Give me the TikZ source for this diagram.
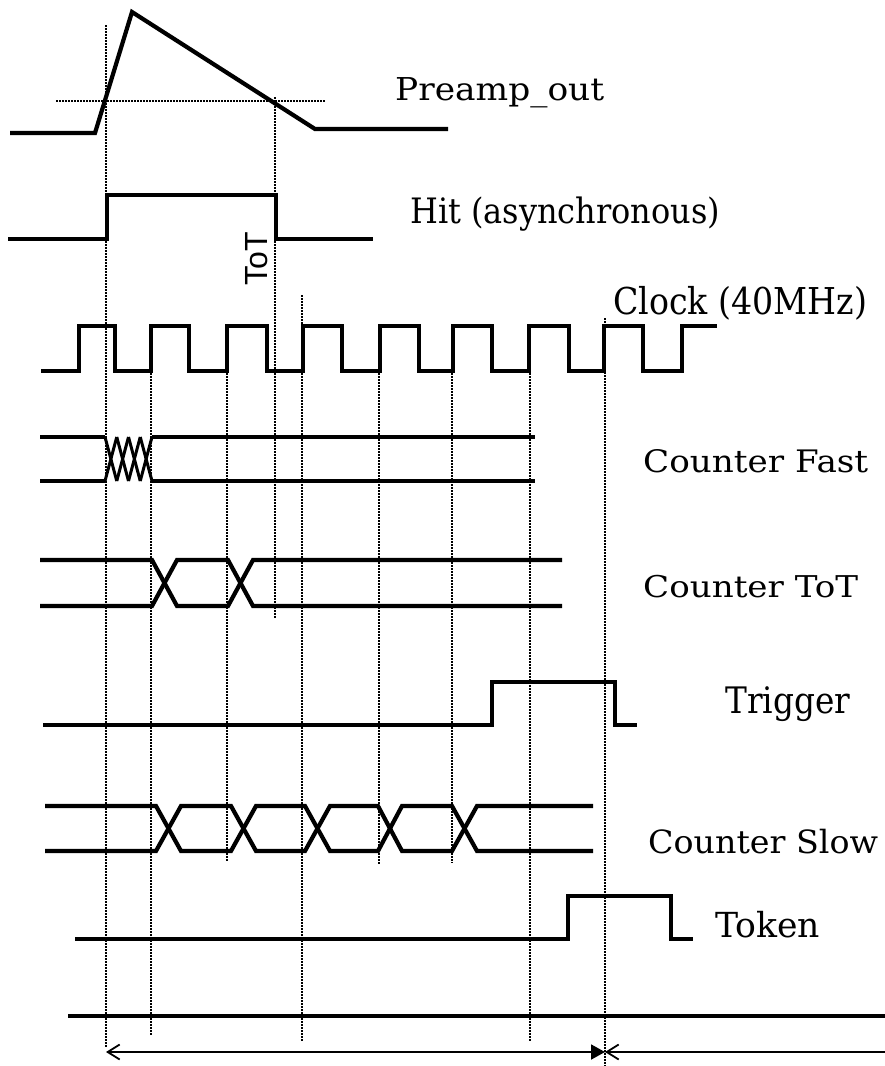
\documentclass[tikz,border=0pt]{standalone}
\usepackage{fontspec}
\setmainfont{DejaVu Serif}
\setsansfont{Liberation Sans}
\usepackage{graphicx}
\usetikzlibrary{arrows.meta}
\newcommand\mylabel[3]{\resizebox{#1pt}{\height}{\fontsize{#2}{#2}\selectfont #3}}
\tikzset{
  wave/.style={line width=4.2pt, line join=miter},
  guide/.style={line width=1.6pt, dash pattern=on 1.5pt off 1.5pt},
  sig/.style={anchor=base west, inner sep=0pt},
  span/.style={line width=1.8pt}
}
\begin{document}
\begin{tikzpicture}[x=1pt,y=-1pt]
\useasboundingbox (0,0) rectangle (885,1066);
% guide lines
\draw[guide] (56,101) -- (326,101);
\foreach \gx/\ga/\gb in {106/25/1047, 151/373/1035, 227/373/862, 275/97/618, 302/295/1042, 379/373/864, 452/373/863, 530/373/1042, 605/318/1066}
  \draw[guide] (\gx,\ga) -- (\gx,\gb);
% Preamp_out
\draw[wave] (10,133) -- (95,133) -- (132,12) -- (315,129) -- (448,129);
% Hit
\draw[wave] (8,239) -- (107,239) -- (107,195) -- (276,195) -- (276,239) -- (373,239);
% Clock
\draw[wave] (41,371) -- (79,371) -- (79,326) -- (115,326) -- (115,371) -- (151,371) -- (151,326) -- (189,326) -- (189,371) -- (227,371) -- (227,326) -- (267,326) -- (267,371) -- (303,371) -- (303,326) -- (342,326) -- (342,371) -- (380,371) -- (380,326) -- (419,326) -- (419,371) -- (453,371) -- (453,326) -- (492,326) -- (492,371) -- (529,371) -- (529,326) -- (569,326) -- (569,371) -- (604,371) -- (604,326) -- (643,326) -- (643,371) -- (682,371) -- (682,326) -- (717,326);
% Counter Fast
\draw[wave] (40,437) -- (105,437);
\draw[wave] (40,481) -- (105,481);
\foreach \k in {0,1,2,3}{
  \pgfmathsetmacro\xa{105+\k*11.75}
  \pgfmathsetmacro\xb{105+(\k+1)*11.75}
  \draw[wave, line width=3pt] (\xa,437) -- (\xb,481);
  \draw[wave, line width=3pt] (\xa,481) -- (\xb,437);
}
\draw[wave] (152,437) -- (535,437);
\draw[wave] (152,481) -- (535,481);
% Counter ToT
\draw[wave] (40,560) -- (152,560) -- (177,606) -- (228,606) -- (253,560) -- (562,560);
\draw[wave] (40,606) -- (152,606) -- (177,560) -- (228,560) -- (253,606) -- (562,606);
% Trigger
\draw[wave] (43,725) -- (492,725) -- (492,682) -- (615,682) -- (615,725) -- (637,725);
% Counter Slow
\draw[wave] (45,806) -- (156,806) -- (181,851) -- (231,851) -- (256,806) -- (305,806) -- (330,851) -- (378,851) -- (402,806) -- (452,806) -- (477,851) -- (593,851);
\draw[wave] (45,851) -- (156,851) -- (181,806) -- (231,806) -- (256,851) -- (305,851) -- (330,806) -- (378,806) -- (402,851) -- (452,851) -- (477,806) -- (593,806);
% Token
\draw[wave] (75,939) -- (568,939) -- (568,896) -- (671,896) -- (671,939) -- (693,939);
% bottom line
\draw[wave] (68,1016) -- (885,1016);
% span arrows
\coordinate (aL) at (106,1052);
\coordinate (aM) at (605,1052);
\coordinate (aR) at (885,1052);
\draw[span, {Straight Barb[length=12pt,width=15pt]}-{Triangle[length=14pt,width=15pt]}] (aL) -- (aM);
\draw[span, {Straight Barb[length=12pt,width=15pt]}-] (aM) -- (aR);
% labels
\node[sig] (lpre) at (395,100) {\mylabel{209}{31.5}{Preamp\_out}};
\node[sig] (lhit) at (410,223) {\mylabel{310}{35}{Hit (asynchronous)}};
\node[sig] (lclk) at (613,314) {\mylabel{254}{37}{Clock (40MHz)}};
\node[sig] (lcf) at (643,472) {\mylabel{225}{31}{Counter Fast}};
\node[sig] (lct) at (643,597) {\mylabel{215}{30}{Counter ToT}};
\node[sig] (ltr) at (725,713) {\mylabel{125}{36.5}{Trigger}};
\node[sig] (lcs) at (648,853) {\mylabel{230}{32}{Counter Slow}};
\node[sig] (ltk) at (715,937) {\mylabel{105}{34.5}{Token}};
\node[rotate=90, anchor=base, inner sep=0pt, font=\sffamily\fontsize{32}{32}\selectfont] (ltot) at (267,259) {ToT};
\end{tikzpicture}
\end{document}
